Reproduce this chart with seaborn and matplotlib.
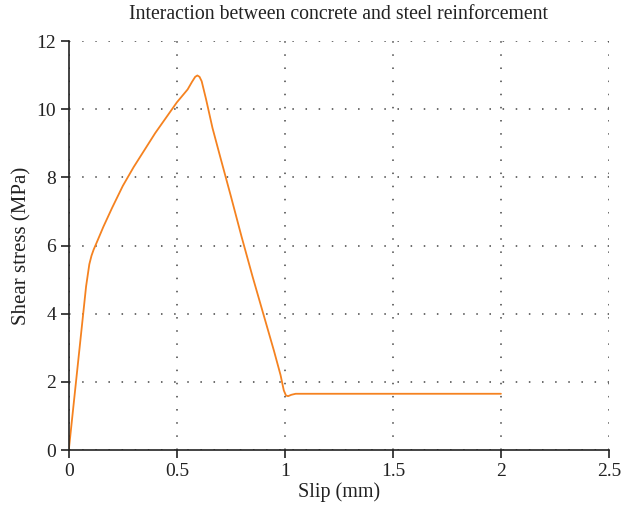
import matplotlib
matplotlib.use("Agg")
import matplotlib.pyplot as plt
import seaborn as sns
import pandas as pd

# Bond–slip curve: slip (mm) vs shear stress (MPa)
slip = [0.0, 0.02, 0.04, 0.06, 0.08, 0.095, 0.105, 0.115, 0.13, 0.16, 0.2,
        0.25, 0.3, 0.35, 0.4, 0.45, 0.5, 0.55, 0.57, 0.585, 0.595, 0.605,
        0.615, 0.635, 0.665, 0.7, 0.75, 0.8, 0.85, 0.9, 0.95, 0.98, 0.995,
        1.005, 1.015, 1.03, 1.05, 1.1, 1.5, 2.0]
stress = [0.0, 1.2, 2.4, 3.6, 4.8, 5.45, 5.7, 5.88, 6.1, 6.55, 7.1,
          7.75, 8.3, 8.8, 9.3, 9.75, 10.2, 10.58, 10.8, 10.95, 10.99, 10.95,
          10.82, 10.3, 9.45, 8.62, 7.45, 6.25, 5.1, 4.0, 2.9, 2.2, 1.75,
          1.6, 1.58, 1.62, 1.65, 1.65, 1.65, 1.65]

xticks = [0, 0.5, 1, 1.5, 2, 2.5]
xtick_labels = ["0", "0.5", "1", "1.5", "2", "2.5"]
yticks = [0, 2, 4, 6, 8, 10, 12]

sns.set_theme(style="white")
plt.rcParams["font.family"] = ["Liberation Serif", "DejaVu Serif"]

fig = plt.figure(figsize=(6.37, 5.13), dpi=100)
ax = fig.add_axes([0.108, 0.1228, 0.848, 0.7972])

df = pd.DataFrame({"Slip (mm)": slip, "Shear stress (MPa)": stress})
sns.lineplot(data=df, x="Slip (mm)", y="Shear stress (MPa)", sort=False,
             color="#F58220", linewidth=1.3, ax=ax)

ax.set_xlim(0, 2.5)
ax.set_ylim(0, 12)
ax.set_xticks(xticks)
ax.set_xticklabels(xtick_labels)
ax.set_yticks(yticks)

ax.grid(True, linestyle=(0, (1, 7.6)), color="#444444", linewidth=1.1)
ax.set_axisbelow(True)

for side in ("top", "right"):
    ax.spines[side].set_visible(False)
for side in ("left", "bottom"):
    ax.spines[side].set_color("#222222")
    ax.spines[side].set_linewidth(1.2)

ax.tick_params(axis="both", direction="out", length=6, width=1.2,
               color="#222222", labelsize=14, labelcolor="#222222",
               bottom=True, left=True, pad=3)

ax.set_xlabel("Slip (mm)", fontsize=14.5, color="#222222", labelpad=2)
ax.set_ylabel("Shear stress (MPa)", fontsize=15, color="#222222", labelpad=4)
ax.set_title("Interaction between concrete and steel reinforcement",
             fontsize=14.2, color="#222222", pad=16)

fig.savefig("out.png", dpi=100)
